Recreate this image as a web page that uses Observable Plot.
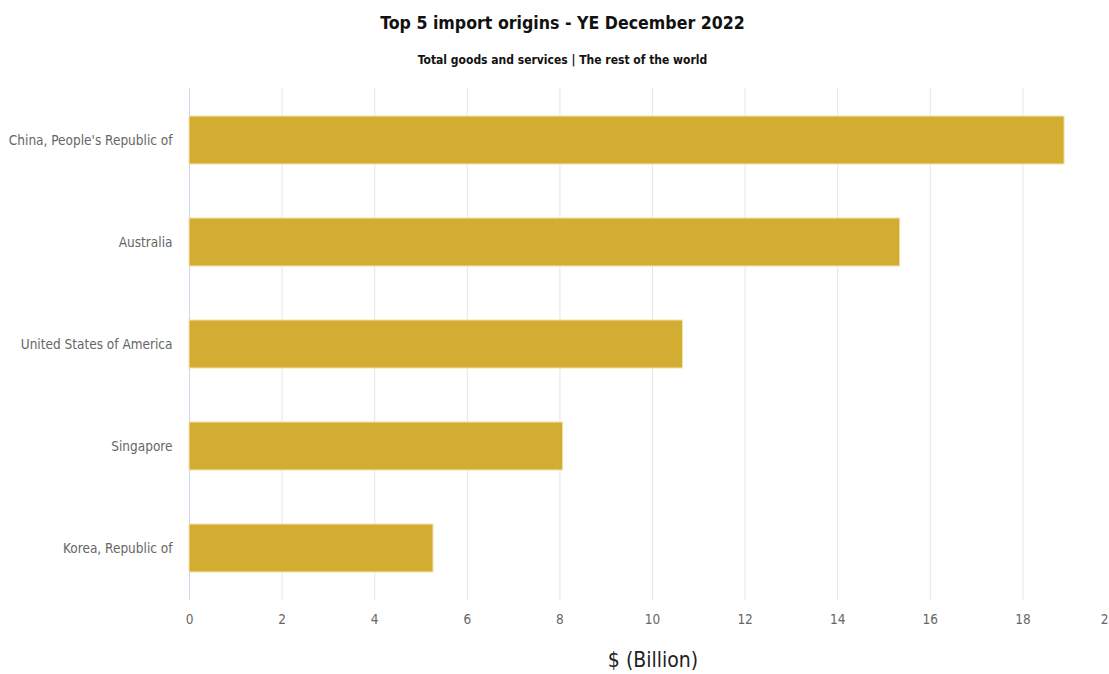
<!DOCTYPE html>
<html><head><meta charset="utf-8">
<script src="https://cdn.jsdelivr.net/npm/d3@7"></script>
<script src="https://cdn.jsdelivr.net/npm/@observablehq/plot@0.6"></script>
<style>
html,body{margin:0;padding:0;background:#fff;overflow:hidden;width:1109px;height:674px;}
#wrap{position:relative;width:1109px;height:674px;overflow:hidden;}
.t{position:absolute;left:0;width:1125px;text-align:center;font-family:"DejaVu Sans Condensed","Liberation Sans Narrow",sans-serif;color:#111;font-weight:bold;}
#title{top:13px;font-size:17.6px;}
#sub{top:53px;font-size:12px;}
#xt{position:absolute;top:648px;left:0;width:1306px;text-align:center;font-family:"DejaVu Sans Condensed","Liberation Sans Narrow",sans-serif;font-size:21px;color:#222;}
#chart{position:absolute;left:0;top:0;width:1135px;}
#chart svg{max-width:none !important;}
</style></head><body>
<div id="wrap">
<div id="chart"></div>
<div class="t" id="title">Top 5 import origins - YE December 2022</div>
<div class="t" id="sub">Total goods and services | The rest of the world</div>
<div id="xt">$ (Billion)</div>
</div>
<script>
const countries = ["China, People's Republic of", "Australia", "United States of America", "Singapore", "Korea, Republic of"];
const values = [18.9, 15.35, 10.66, 8.07, 5.27];
const xTicks = [0, 2, 4, 6, 8, 10, 12, 14, 16, 18, 20];

const data = countries.map((c, i) => ({country: c, value: values[i]}));
const lastTick = xTicks[xTicks.length - 1];

const chart = Plot.plot({
  width: 1135,
  height: 674,
  marginLeft: 189,
  marginRight: 20,
  marginTop: 88,
  marginBottom: 74,
  style: {fontFamily: "'DejaVu Sans Condensed','Liberation Sans Narrow',sans-serif", fontSize: "13.5px", color: "#666", maxWidth: "none"},
  x: {domain: [0, 20], ticks: xTicks, label: null, tickSize: 0, tickPadding: 14},
  y: {domain: countries, label: null, paddingInner: 0.53, paddingOuter: 0.265, tickSize: 0, tickPadding: 17},
  marks: [
    Plot.gridX(xTicks, {stroke: "#e6e6e6", strokeOpacity: 1, strokeWidth: 1}),
    Plot.ruleX([0], {stroke: "#ccd6eb", strokeWidth: 1}),
    Plot.barX(data, {x: "value", y: "country", fill: "#d3ac32", stroke: "#f3e2b0", strokeWidth: 1}),
    Plot.axisX(xTicks.slice(0, -1), {tickSize: 0, tickPadding: 14, fill: "#666", fontSize: 13.5, label: null}),
    Plot.axisX([lastTick], {tickSize: 0, tickPadding: 14, fill: "#666", fontSize: 13.5, label: null, dx: -7}),
    Plot.axisY({tickSize: 0, tickPadding: 17, fill: "#666", fontSize: 13.5, label: null})
  ]
});
document.getElementById("chart").appendChild(chart);
</script>
</body></html>
